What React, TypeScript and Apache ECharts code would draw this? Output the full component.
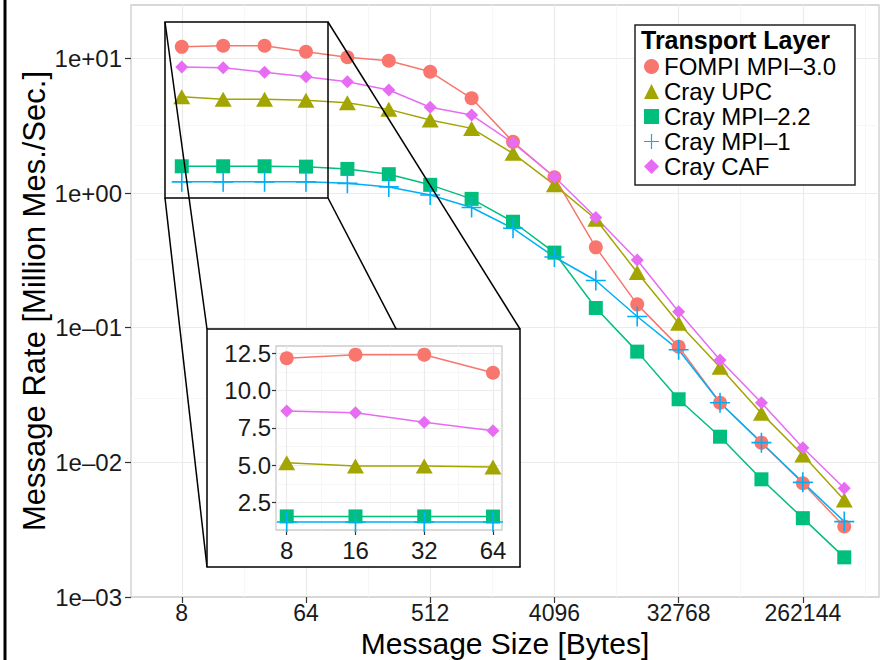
import React, { useEffect, useRef } from 'react';
import * as echarts from 'echarts';

// ---------- data ----------
const messageSizes = [8, 16, 32, 64, 128, 256, 512, 1024, 2048, 4096, 8192, 16384, 32768, 65536, 131072, 262144, 524288];

const seriesNames = ['FOMPI MPI–3.0', 'Cray UPC', 'Cray MPI–2.2', 'Cray MPI–1', 'Cray CAF'];

const fompiMpi3 = [12.17, 12.41, 12.41, 11.2, 10.2, 9.6, 7.95, 5.05, 2.4, 1.31, 0.395, 0.149, 0.0723, 0.0277, 0.014, 0.007, 0.00334];
const crayUpc = [5.18, 4.96, 4.96, 4.89, 4.68, 4.18, 3.48, 3.02, 1.97, 1.15, 0.638, 0.257, 0.108, 0.0508, 0.0231, 0.01135, 0.00526];
const crayMpi22 = [1.58, 1.58, 1.58, 1.57, 1.51, 1.38, 1.15, 0.905, 0.612, 0.361, 0.14, 0.0664, 0.0294, 0.0155, 0.00748, 0.00385, 0.00197];
const crayMpi1 = [1.21, 1.21, 1.21, 1.21, 1.18, 1.11, 0.966, 0.78, 0.547, 0.335, 0.224, 0.121, 0.0685, 0.0277, 0.014, 0.0071, 0.00363];
const crayCaf = [8.64, 8.52, 7.88, 7.31, 6.7, 5.82, 4.33, 3.79, 2.36, 1.32, 0.658, 0.318, 0.1315, 0.0575, 0.0277, 0.01285, 0.00643];

const allValues = [fompiMpi3, crayUpc, crayMpi22, crayMpi1, crayCaf];

// main axes ticks / grid
const xTickValues = [8, 64, 512, 4096, 32768, 262144];
const xMinorGrid = [22.63, 181.02, 1448.15, 11585.24, 92681.9, 741455.2];
const yTickValues = [0.001, 0.01, 0.1, 1, 10];
const yMinorGrid = [0.003162, 0.03162, 0.3162, 3.162];

// inset (zoom on first four sizes)
const insetSizes = [8, 16, 32, 64];
const insetYTicks = [2.5, 5, 7.5, 10, 12.5];
const insetXMinor = [11.31, 22.63, 45.25];
const insetYMinor = [1.25, 3.75, 6.25, 8.75, 11.25];

// ---------- styles ----------
const FONT = '"Liberation Sans", Arial, Helvetica, sans-serif';
const colors = ['#F8766D', '#A3A500', '#00BF7D', '#00B0F6', '#E76BF3'];
const plusPath = 'path://M0,9.2H20V10.8H0Z M9.2,0H10.8V20H9.2Z';
const symbols = ['circle', 'triangle', 'rect', plusPath, 'diamond'];
const symbolSizes: any[] = [14, [17, 15], 14, 20, 13];
const MAJOR = '#ebebeb';
const MINOR = '#f5f5f5';

function expLabel(v: number) {
  const e = Math.round(Math.log10(v));
  return '1e' + (e < 0 ? '–' : '+') + String(Math.abs(e)).padStart(2, '0');
}

function gridLines(xs: number[], ys: number[], color: string, width: number) {
  return [
    ...xs.map((v) => ({ xAxis: v, lineStyle: { color, width, type: 'solid' } })),
    ...ys.map((v) => ({ yAxis: v, lineStyle: { color, width, type: 'solid' } })),
  ];
}

export default function App() {
  const ref = useRef<HTMLDivElement>(null);

  useEffect(() => {
    if (!ref.current) return;
    const chart = echarts.init(ref.current, undefined, { renderer: 'svg' });

    const series: any[] = [];

    // gridlines main
    series.push({
      type: 'line',
      xAxisIndex: 0,
      yAxisIndex: 0,
      data: [],
      silent: true,
      markLine: {
        silent: true,
        symbol: 'none',
        z: 1,
        label: { show: false },
        animation: false,
        data: [
          ...gridLines(xMinorGrid, yMinorGrid, MINOR, 0.8),
          ...gridLines(xTickValues, yTickValues, MAJOR, 1.2),
        ],
      },
    });
    // gridlines inset
    series.push({
      type: 'line',
      xAxisIndex: 1,
      yAxisIndex: 1,
      data: [],
      silent: true,
      markLine: {
        silent: true,
        symbol: 'none',
        z: 13,
        label: { show: false },
        animation: false,
        data: [
          ...gridLines(insetXMinor, insetYMinor, MINOR, 0.8),
          ...gridLines(insetSizes, insetYTicks, MAJOR, 1.2),
        ],
      },
    });

    seriesNames.forEach((name, k) => {
      series.push({
        type: 'scatter',
        name,
        xAxisIndex: 0,
        yAxisIndex: 0,
        data: messageSizes.map((s, i) => [s, allValues[k][i]]),
        symbol: symbols[k],
        symbolSize: symbolSizes[k],
        itemStyle: { color: colors[k], opacity: 1 },
        z: 3,
        silent: true,
      });
    });
    seriesNames.forEach((name, k) => {
      series.push({
        type: 'line',
        name,
        xAxisIndex: 0,
        yAxisIndex: 0,
        data: messageSizes.map((s, i) => [s, allValues[k][i]]),
        showSymbol: false,
        symbol: 'none',
        lineStyle: { color: colors[k], width: 1.5 },
        itemStyle: { color: colors[k] },
        z: 2,
        silent: true,
      });
    });
    // inset series
    seriesNames.forEach((name, k) => {
      series.push({
        type: 'line',
        name,
        xAxisIndex: 1,
        yAxisIndex: 1,
        data: insetSizes.map((s, i) => [s, allValues[k][i]]),
        showSymbol: false,
        symbol: 'none',
        lineStyle: { color: colors[k], width: 1.5 },
        itemStyle: { color: colors[k] },
        z: 14,
        silent: true,
      });
      series.push({
        type: 'scatter',
        name,
        xAxisIndex: 1,
        yAxisIndex: 1,
        data: insetSizes.map((s, i) => [s, allValues[k][i]]),
        symbol: symbols[k],
        symbolSize: symbolSizes[k],
        itemStyle: { color: colors[k], opacity: 1 },
        z: 15,
        silent: true,
      });
    });

    const tickLabel = { fontSize: 24, fontFamily: FONT, color: '#1a1a1a' };

    const option: any = {
      animation: false,
      backgroundColor: '#ffffff',
      grid: [
        {
          left: 131, top: 5, width: 748, height: 592, outerBoundsMode: 'none', containLabel: false,
          show: true, backgroundColor: '#ffffff', borderColor: '#cccccc', borderWidth: 1.3, z: 0,
        },
        {
          left: 276, top: 346, width: 226, height: 184, outerBoundsMode: 'none', containLabel: false,
          show: true, backgroundColor: '#ffffff', borderColor: '#cccccc', borderWidth: 1.3, z: 12,
        },
      ],
      xAxis: [
        {
          type: 'log', logBase: 2, gridIndex: 0, min: 3.42, max: 938000,
          axisLine: { show: false },
          axisTick: { show: true, length: 6, customValues: xTickValues, lineStyle: { color: '#333', width: 1.2 } },
          axisLabel: { ...tickLabel, fontSize: 23, lineHeight: 20, margin: 6, customValues: xTickValues, formatter: (v: number) => String(Math.round(v)) },
          splitLine: { show: false },
          minorTick: { show: false },
          name: 'Message Size [Bytes]', nameLocation: 'middle', nameGap: 33, nameMoveOverlap: false,
          nameTextStyle: { fontSize: 30, lineHeight: 26, fontFamily: FONT, color: '#000' },
        },
        {
          type: 'log', logBase: 2, gridIndex: 1, min: 7.18, max: 70.1, z: 13,
          axisLine: { show: false },
          axisTick: { show: true, length: 5, customValues: insetSizes, lineStyle: { color: '#333', width: 1.2 } },
          axisLabel: { ...tickLabel, margin: 8, customValues: insetSizes, formatter: (v: number) => String(Math.round(v)) },
          splitLine: { show: false },
        },
      ],
      yAxis: [
        {
          type: 'log', logBase: 10, gridIndex: 0, min: 0.001, max: 24.9,
          axisLine: { show: false },
          axisTick: { show: true, length: 6, customValues: yTickValues, lineStyle: { color: '#333', width: 1.2 } },
          axisLabel: { ...tickLabel, margin: 9, customValues: yTickValues, formatter: (v: number) => expLabel(v) },
          splitLine: { show: false },
          name: 'Message Rate [Million Mes./Sec.]', nameLocation: 'middle', nameGap: 81, nameMoveOverlap: false,
          nameTextStyle: { fontSize: 31, fontFamily: FONT, color: '#000' },
        },
        {
          type: 'value', gridIndex: 1, min: 0.67, max: 12.99, z: 13,
          axisLine: { show: false },
          axisTick: { show: true, length: 4, customValues: insetYTicks, lineStyle: { color: '#333', width: 1.2 } },
          axisLabel: { ...tickLabel, margin: 5, customValues: insetYTicks, formatter: (v: number) => v.toFixed(1) },
          splitLine: { show: false },
        },
      ],
      legend: {
        orient: 'vertical',
        left: 644,
        top: 54,
        padding: 0,
        itemWidth: 15,
        itemHeight: 15,
        itemGap: 0,
        selectedMode: false,
        z: 21,
        textStyle: { fontSize: 24, fontFamily: FONT, color: '#000', lineHeight: 25 },
        data: seriesNames.map((n, k) => ({ name: n, icon: symbols[k], itemStyle: { color: colors[k] } })),
      },
      graphic: [
        { type: 'rect', z: 30, shape: { x: 3.5, y: 0, width: 3, height: 660 }, style: { fill: '#000' } },
        { type: 'rect', z: 10, shape: { x: 165, y: 22, width: 163, height: 176 }, style: { fill: 'none', stroke: '#000', lineWidth: 1.5 } },
        { type: 'line', z: 10, shape: { x1: 165, y1: 22, x2: 207, y2: 329 }, style: { stroke: '#000', lineWidth: 1.5 } },
        { type: 'line', z: 10, shape: { x1: 165, y1: 198, x2: 207, y2: 567 }, style: { stroke: '#000', lineWidth: 1.5 } },
        { type: 'line', z: 10, shape: { x1: 328, y1: 22, x2: 520, y2: 329 }, style: { stroke: '#000', lineWidth: 1.5 } },
        { type: 'line', z: 10, shape: { x1: 328, y1: 198, x2: 520, y2: 567 }, style: { stroke: '#000', lineWidth: 1.5 } },
        { type: 'rect', z: 11, shape: { x: 207, y: 329, width: 313, height: 238 }, style: { fill: '#fff', stroke: '#000', lineWidth: 1.5 } },
        { type: 'rect', z: 20, shape: { x: 635, y: 25, width: 220, height: 160 }, style: { fill: '#fff', stroke: '#222', lineWidth: 1.5 } },
        {
          type: 'text', z: 21, x: 641, y: 40,
          style: { text: 'Transport Layer', font: 'bold 25px ' + FONT, fill: '#000', verticalAlign: 'middle', align: 'left' },
        },
      ],
      series,
    };

    chart.setOption(option);
    return () => chart.dispose();
  }, []);

  return <div ref={ref} style={{ position: 'absolute', left: 0, top: 0, width: 887, height: 660 }} />;
}
